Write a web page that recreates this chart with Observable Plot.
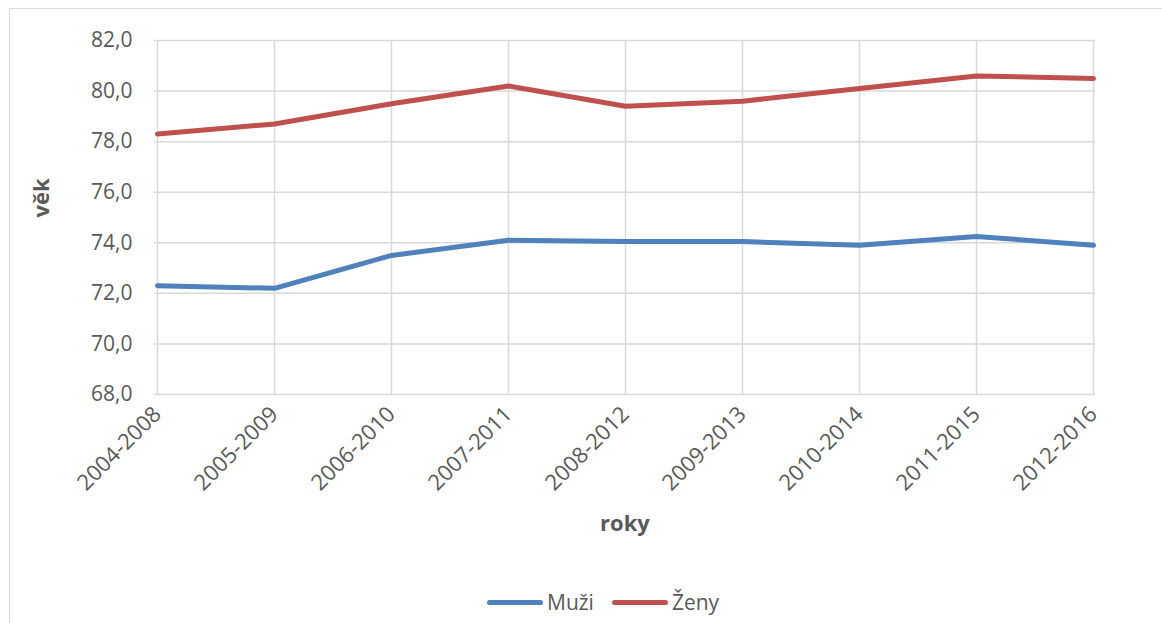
<!DOCTYPE html>
<html>
<head>
<meta charset="utf-8">
<script src="https://cdn.jsdelivr.net/npm/d3@7"></script>
<script src="https://cdn.jsdelivr.net/npm/@observablehq/plot@0.6"></script>
<style>
  html, body { margin: 0; padding: 0; background: #fff; }
  body { width: 1162px; height: 623px; position: relative; overflow: hidden; font-family: "Open Sans", sans-serif; }
  #frame { position: absolute; left: 9px; top: 8px; width: 1200px; height: 700px; border-left: 1.5px solid #d9d9d9; border-top: 1.5px solid #d9d9d9; }
  #chart { position: absolute; left: 0; top: 0; }
  #legend { position: absolute; top: 588px; left: 487px; display: flex; align-items: center; gap: 18px; font-size: 21px; color: #595959; }
  .item { display: flex; align-items: center; gap: 4px; }
  .sw { width: 56px; height: 5px; border-radius: 3px; }
</style>
</head>
<body>
<div id="frame"></div>
<div id="chart"></div>
<div id="legend"></div>
<script>
const categories = ["2004-2008","2005-2009","2006-2010","2007-2011","2008-2012","2009-2013","2010-2014","2011-2015","2012-2016"];
const muzi = [72.3, 72.2, 73.5, 74.1, 74.05, 74.05, 73.9, 74.25, 73.9];
const zeny = [78.3, 78.7, 79.5, 80.2, 79.4, 79.6, 80.1, 80.6, 80.5];
const seriesNames = ["Muži", "Ženy"];
const seriesColors = ["#4f81bd", "#c0504d"];
const yTicks = [68, 70, 72, 74, 76, 78, 80, 82];

const data = [];
categories.forEach((c, i) => {
  data.push({period: c, value: muzi[i], series: seriesNames[0]});
  data.push({period: c, value: zeny[i], series: seriesNames[1]});
});

const fmt = d => d.toFixed(1).replace(".", ",");

const chart = Plot.plot({
  width: 1162,
  height: 580,
  marginLeft: 154,
  marginRight: 67,
  marginTop: 40,
  marginBottom: 186,
  style: { fontFamily: "'Open Sans', sans-serif", fontSize: "20px", color: "#595959", background: "transparent", overflow: "visible" },
  x: { type: "point", domain: categories, padding: 0 },
  y: { domain: [68, 82] },
  color: { domain: seriesNames, range: seriesColors },
  marks: [
    Plot.gridY(yTicks, { stroke: "#d9d9d9", strokeOpacity: 1, strokeWidth: 1.5 }),
    Plot.gridX(categories, { stroke: "#d9d9d9", strokeOpacity: 1, strokeWidth: 1.5 }),
    Plot.axisY(yTicks, { tickSize: 0, tickPadding: 22, tickFormat: fmt, label: null, fill: "#595959", fontSize: 21 }),
    Plot.axisX(categories, { tickSize: 0, tickPadding: 16, tickRotate: -45, label: null, fill: "#595959", fontSize: 22 }),
    Plot.line(data, { x: "period", y: "value", z: "series", stroke: "series", strokeWidth: 5, strokeLinecap: "round", strokeLinejoin: "round" }),
    Plot.text(["roky"], { frameAnchor: "bottom", dy: 136, fontWeight: "bold", fontSize: 22, fill: "#595959" }),
    Plot.text(["věk"], { frameAnchor: "left", dx: -113, rotate: -90, fontWeight: "bold", fontSize: 22, fill: "#595959" })
  ]
});
document.getElementById("chart").appendChild(chart);

const legend = document.getElementById("legend");
seriesNames.forEach((n, i) => {
  const it = document.createElement("div");
  it.className = "item";
  const sw = document.createElement("div");
  sw.className = "sw";
  sw.style.background = seriesColors[i];
  const t = document.createElement("span");
  t.textContent = n;
  it.appendChild(sw); it.appendChild(t);
  legend.appendChild(it);
});
</script>
</body>
</html>
